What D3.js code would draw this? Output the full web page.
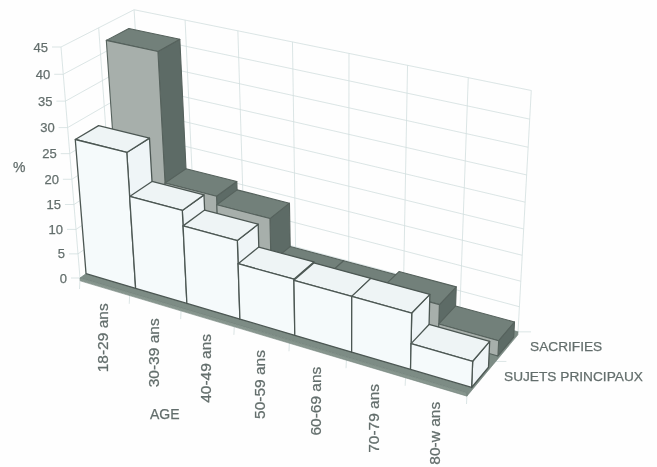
<!DOCTYPE html>
<html>
<head>
<meta charset="utf-8">
<script src="https://cdn.jsdelivr.net/npm/d3@7"></script>
<style>
  html, body { margin: 0; padding: 0; background: #fefefe; }
  svg { display: block; filter: blur(0.4px); }
  text { font-family: "Liberation Sans", Arial, sans-serif; fill: #636e6c; stroke: #636e6c; stroke-width: 0.25px; }
</style>
</head>
<body>
<div id="chart"></div>
<script>
// values
let ages = ["18-29 ans", "30-39 ans", "40-49 ans", "50-59 ans", "60-69 ans", "70-79 ans", "80-w ans"];
let seriesNames = ["SUJETS PRINCIPAUX", "SACRIFIES"];
let sujetsValues = [27, 18.5, 15.5, 11, 10.8, 10.8, 5];
let sacrifiesValues = [42, 16.5, 14.8, 6, 6, 6.8, 3];
let valueTicks = [0, 5, 10, 15, 20, 25, 30, 35, 40, 45];

let width = 657, height = 467;

// projective frame of the chart box: origin and the end of each axis, on screen
let origin = [80, 278], uEnd = [467, 393], vEnd = [147.4, 230], wEnd = [61, 47];
let uWeight = 0.885, vWeight = 1.06, wWeight = 0.933;

let project = (u, v, w) => {
  let h = 1 + u * (uWeight - 1) + v * (vWeight - 1) + w * (wWeight - 1);
  let coord = (i) => origin[i] * (1 - u - v - w) + uEnd[i] * uWeight * u + vEnd[i] * vWeight * v + wEnd[i] * wWeight * w;
  return [coord(0) / h, coord(1) / h];
};

let uScale = d3.scaleBand().domain(ages).range([0, 1]).padding(0);
let vScale = d3.scaleBand().domain(seriesNames).range([0.085, 0.91]).paddingInner(0.366).paddingOuter(0);
let wScale = d3.scaleLinear().domain([0, 45]).range([0, 1]);

let svg = d3.select("#chart").append("svg")
  .attr("width", width)
  .attr("height", height);

let line = d3.line();
let path3d = (pts) => line(pts.map(p => project(p[0], p[1], p[2]))) + "Z";

// walls
let grid = svg.append("g")
  .attr("fill", "none")
  .attr("stroke", "#d2dede")
  .attr("stroke-width", 0.8);

valueTicks.forEach(t => {
  let w = wScale(t);
  grid.append("path").attr("d", line([project(0, 0, w), project(0, 1, w), project(1, 1, w)]));
  // tick on the value axis
  let a = project(0, 0, w);
  grid.append("path").attr("d", line([[a[0] - 9, a[1]], a]));
});

let uLines = d3.range(ages.length + 1).map(i => i / ages.length);
uLines.forEach(u => {
  grid.append("path").attr("d", line([project(u, 1, 0), project(u, 1, 1)]));
  // tick under the floor
  let a = project(u, 0, 0);
  grid.append("path").attr("d", line([a, [a[0] - 0.5, a[1] + 11]]));
});
[0, 0.5].forEach(v => {
  grid.append("path").attr("d", line([project(0, v, 0), project(0, v, 1)]));
});
[0.5, 1].forEach(v => {
  let a = project(1, v, 0);
  grid.append("path").attr("d", line([a, [a[0] + 13, a[1]]]));
});

// floor
let slab = wScale(-0.6);
let floor = svg.append("g").attr("stroke", "#74837c").attr("stroke-width", 0.6);
floor.append("path").attr("fill", "#7d8c85")
  .attr("d", path3d([[0, 0, 0], [1, 0, 0], [1, 1, 0], [0, 1, 0]]));
floor.append("path").attr("fill", "#87968e")
  .attr("d", path3d([[0, 0, 0], [1, 0, 0], [1, 0, slab], [0, 0, slab]]));
floor.append("path").attr("fill", "#7d8c85")
  .attr("d", path3d([[1, 0, 0], [1, 1, 0], [1, 1, slab], [1, 0, slab]]));

let styles = [
  { front: "#f5fafb", top: "#eef4f5", side: "#eff5f7", edge: "#4c5753", lw: 1.3 },
  { front: "#a7afab", top: "#72807a", side: "#5d6b66", edge: "#56625d", lw: 1.1 }
];

// back series first, then left to right
[1, 0].forEach(s => {
  let name = seriesNames[s];
  let values = s === 0 ? sujetsValues : sacrifiesValues;
  let style = styles[s];
  let v0 = vScale(name), v1 = v0 + vScale.bandwidth();
  let g = svg.append("g")
    .attr("stroke", style.edge)
    .attr("stroke-width", style.lw)
    .attr("stroke-linejoin", "round");
  ages.forEach((age, i) => {
    let u0 = uScale(age), u1 = u0 + uScale.bandwidth(), w = wScale(values[i]);
    g.append("path").attr("fill", style.side)
      .attr("d", path3d([[u1, v0, 0], [u1, v1, 0], [u1, v1, w], [u1, v0, w]]));
    g.append("path").attr("fill", style.top)
      .attr("d", path3d([[u0, v0, w], [u1, v0, w], [u1, v1, w], [u0, v1, w]]));
    g.append("path").attr("fill", style.front)
      .attr("d", path3d([[u0, v0, 0], [u1, v0, 0], [u1, v0, w], [u0, v0, w]]));
  });
});

// value labels
valueTicks.forEach(t => {
  let a = project(0, 0, wScale(t));
  svg.append("text")
    .attr("x", a[0] - 13)
    .attr("y", a[1] + 4.5)
    .attr("text-anchor", "end")
    .attr("font-size", 13)
    .text(t);
});

svg.append("text").attr("x", 13).attr("y", 172).attr("font-size", 14).text("%");

// category labels, rotated
ages.forEach(age => {
  let u = uScale(age) + uScale.bandwidth() / 2;
  let a = project(u, 0, 0);
  svg.append("text")
    .attr("transform", "translate(" + (a[0] + 3.5) + "," + (a[1] + 18) + ") rotate(-90)")
    .attr("text-anchor", "end")
    .attr("font-size", 15.5)
    .text(age);
});

svg.append("text").attr("x", 150).attr("y", 419).attr("font-size", 14).text("AGE");

svg.append("text").attr("x", 530).attr("y", 351).attr("font-size", 13.7).text("SACRIFIES");
svg.append("text").attr("x", 504).attr("y", 381).attr("font-size", 13.7).text("SUJETS PRINCIPAUX");
</script>
</body>
</html>
